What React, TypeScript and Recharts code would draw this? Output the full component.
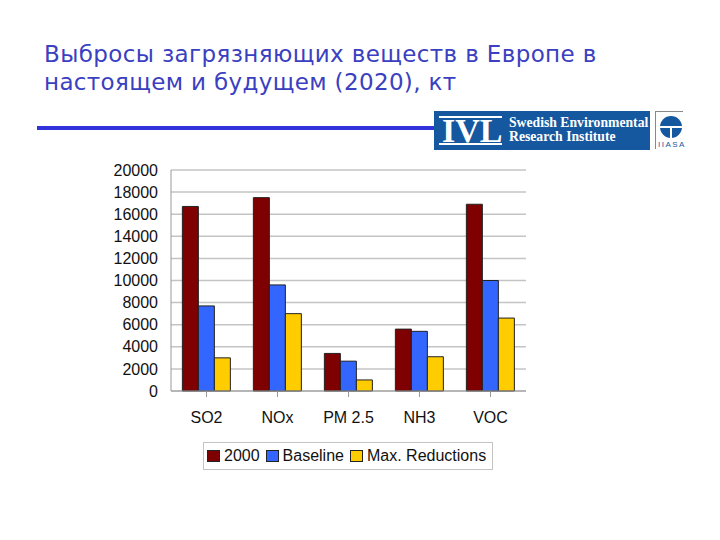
import { BarChart, Bar, XAxis, YAxis, CartesianGrid, Legend } from 'recharts';

const categories = ['SO2', 'NOx', 'PM 2.5', 'NH3', 'VOC'];
const values2000 = [16700, 17500, 3400, 5600, 16900];
const valuesBaseline = [7700, 9600, 2700, 5400, 10000];
const valuesMaxReductions = [3000, 7000, 1000, 3100, 6600];
const yTicks = [0, 2000, 4000, 6000, 8000, 10000, 12000, 14000, 16000, 18000, 20000];
const titleLines = ['Выбросы загрязняющих веществ в Европе в', 'настоящем и будущем (2020), кт'];

const data = categories.map((name, i) => ({
  name,
  y2000: values2000[i],
  baseline: valuesBaseline[i],
  maxReductions: valuesMaxReductions[i],
}));

const chartFont = 'Liberation Sans, Arial, sans-serif';

const legendItems = [
  { label: '2000', color: '#7f0000' },
  { label: 'Baseline', color: '#3366ff' },
  { label: 'Max. Reductions', color: '#ffcc00' },
];

function ChartLegend() {
  return (
    <div
      style={{
        width: 290,
        height: 28,
        boxSizing: 'border-box',
        border: '1px solid #c4c4c4',
        display: 'flex',
        alignItems: 'center',
        paddingLeft: 3,
        fontFamily: chartFont,
        fontSize: 16,
        color: '#111',
        background: '#fff',
        whiteSpace: 'nowrap',
      }}
    >
      {legendItems.map((item) => (
        <span key={item.label} style={{ display: 'flex', alignItems: 'center', marginRight: 6, flex: 'none' }}>
          <span
            style={{
              width: 11,
              height: 10,
              background: item.color,
              border: '1px solid #222',
              marginRight: 4,
              flex: 'none',
            }}
          />
          {item.label}
        </span>
      ))}
    </div>
  );
}

function Logo() {
  return (
    <>
      <div
        style={{
          position: 'absolute',
          left: 434,
          top: 111,
          width: 216,
          height: 39,
          background: '#15589f',
          color: '#fff',
          fontFamily: 'Liberation Serif, serif',
        }}
      >
        <div style={{ position: 'absolute', left: 5, top: 5, width: 63, height: 2, background: '#fff' }} />
        <div style={{ position: 'absolute', left: 5, top: 32, width: 63, height: 2, background: '#fff' }} />
        <div style={{ position: 'absolute', left: 8, top: 3, fontSize: 34, fontWeight: 700, lineHeight: '34px' }}>IVL</div>
        <div style={{ position: 'absolute', left: 75, top: 5, fontSize: 13.7, fontWeight: 700, lineHeight: '14px', whiteSpace: 'nowrap' }}>
          Swedish Environmental
        </div>
        <div style={{ position: 'absolute', left: 75, top: 19, fontSize: 13.7, fontWeight: 700, lineHeight: '14px', whiteSpace: 'nowrap' }}>
          Research Institute
        </div>
      </div>
      <div style={{ position: 'absolute', left: 655, top: 111, width: 1, height: 38, background: '#888' }} />
      <div style={{ position: 'absolute', left: 655, top: 111, width: 28, height: 1, background: '#888' }} />
      <div style={{ position: 'absolute', left: 660, top: 116, width: 22, height: 22, borderRadius: 11, background: '#15589f' }}>
        <div style={{ position: 'absolute', left: 0, top: 10, width: 22, height: 2, background: '#fff' }} />
        <div style={{ position: 'absolute', left: 10, top: 10, width: 2, height: 12, background: '#fff' }} />
      </div>
      <div
        style={{
          position: 'absolute',
          left: 658,
          top: 140,
          width: 28,
          fontFamily: chartFont,
          fontSize: 8,
          lineHeight: '10px',
          letterSpacing: 1.5,
          color: '#15589f',
        }}
      >
        IIASA
      </div>
    </>
  );
}

export default function App() {
  return (
    <div style={{ position: 'absolute', left: 0, top: 0, width: 720, height: 540, background: '#fff', overflow: 'hidden' }}>
      {titleLines.map((line, i) => (
        <div
          key={line}
          style={{
            position: 'absolute',
            left: 44,
            top: 40 + i * 28,
            fontFamily: 'DejaVu Sans, sans-serif',
            fontSize: 23,
            letterSpacing: i === 0 ? 0.38 : 0.35,
            lineHeight: '29px',
            color: '#3a40c0',
            whiteSpace: 'nowrap',
          }}
        >
          {line}
        </div>
      ))}
      <div style={{ position: 'absolute', left: 37, top: 126, width: 398, height: 4, background: '#3333dd' }} />
      <Logo />
      <div style={{ position: 'absolute', left: 0, top: 0 }}>
        <BarChart
          width={720}
          height={540}
          data={data}
          margin={{ top: 170, right: 194, bottom: 81, left: 101 }}
          barCategoryGap="16%"
          barGap={0}
        >
          <CartesianGrid vertical={false} stroke="#c4c4c4" strokeWidth={1.5} />
          <XAxis
            dataKey="name"
            height={40}
            tick={{ fontFamily: chartFont, fontSize: 16, fill: '#111' }}
            stroke="#999"
            tickLine={{ stroke: '#999' }}
            tickMargin={15}
            interval={0}
          />
          <YAxis
            width={70}
            domain={[0, 20000]}
            ticks={yTicks}
            interval={0}
            tick={{ fontFamily: chartFont, fontSize: 16, fill: '#111' }}
            stroke="#999"
            tickLine={false}
            tickMargin={7}
          />
          <Bar dataKey="y2000" name="2000" fill="#7f0000" stroke="#222" isAnimationActive={false} />
          <Bar dataKey="baseline" name="Baseline" fill="#3366ff" stroke="#222" isAnimationActive={false} />
          <Bar dataKey="maxReductions" name="Max. Reductions" fill="#ffcc00" stroke="#222" isAnimationActive={false} />
          <Legend
            content={<ChartLegend />}
            layout="horizontal"
            wrapperStyle={{ left: 203, top: 442, width: 290, height: 28, bottom: 'auto' }}
          />
        </BarChart>
      </div>
    </div>
  );
}
